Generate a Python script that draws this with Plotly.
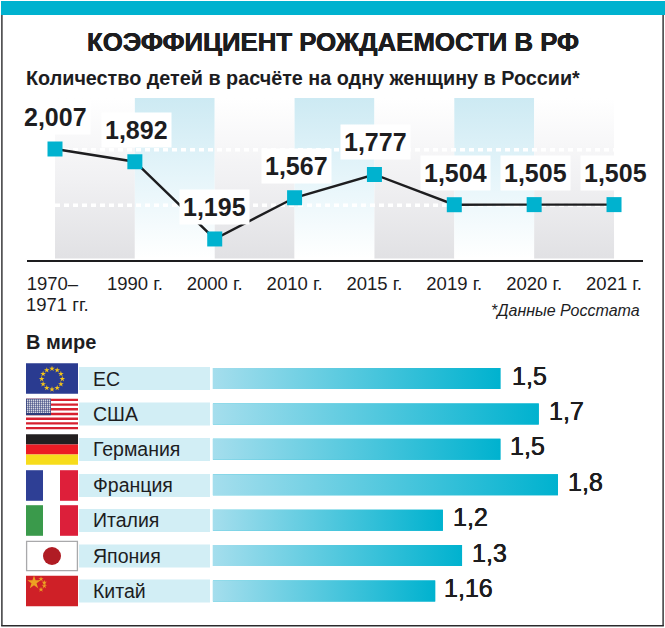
import plotly.graph_objects as go

W, H = 665, 628

# ---- data ----
years = ["1970–&nbsp;", "1990 г.", "2000 г.", "2010 г.", "2015 г.", "2019 г.", "2020 г.", "2021 г."]
first_year_second_line = "1971 гг."
rates = [2.007, 1.892, 1.195, 1.567, 1.777, 1.504, 1.505, 1.505]
grid_levels = [2.0, 1.5]
countries = ["ЕС", "США", "Германия", "Франция", "Италия", "Япония", "Китай"]
world_rates = [1.5, 1.7, 1.5, 1.8, 1.2, 1.3, 1.16]

# ---- style ----
TEAL = "#00b2cf"
INK = "#1d1d1f"
SANS = "Liberation Sans"
THICK = "0.35px 0 0 #1d1d1f, -0.2px 0 0 #1d1d1f"


def X(px):
    return px / W


def Y(py):
    return 1 - py / H


PX_PER_UNIT = 110.8
def val_at(py):
    return 2.007 - (py - 149) / PX_PER_UNIT

y_bottom = val_at(260)
y_top = val_at(98)
band_bottom = val_at(258.5)
band_top = y_top
x_left = (27 - 55) / 79.86
x_right = (643 - 55) / 79.86

fig = go.Figure()

# alternating gradient bands
for i in range(7):
    if i % 2 == 0:
        scale = [[0, "#e1e1e4"], [0.5, "#f1f1f3"], [1, "#ffffff"]]
    else:
        scale = [[0, "#ffffff"], [0.5, "#e6f5fa"], [1, "#cdeaf3"]]
    fig.add_trace(go.Scatter(
        x=[i, i + 1, i + 1, i, i], y=[band_bottom, band_bottom, band_top, band_top, band_bottom],
        mode="lines", line=dict(width=0), fill="toself", hoverinfo="skip", showlegend=False,
        fillgradient=dict(type="vertical", colorscale=scale, start=band_bottom, stop=band_top),
    ))

# dotted white level lines
for lv in grid_levels:
    fig.add_trace(go.Scatter(
        x=[0, 7], y=[lv, lv], mode="lines", hoverinfo="skip", showlegend=False,
        line=dict(color="white", width=3.5, dash="5px,4px"),
    ))

# main line
fig.add_trace(go.Scatter(
    x=list(range(len(rates))), y=rates, mode="lines+markers", showlegend=False,
    line=dict(color=INK, width=2.4),
    marker=dict(symbol="square", size=15, color=TEAL, line=dict(width=0)),
    cliponaxis=False,
))

# horizontal bars (solid base, gradient on top)
BAR_W = 0.593
fig.add_trace(go.Bar(
    x=world_rates, y=list(range(len(world_rates))), orientation="h", width=BAR_W,
    marker=dict(color=TEAL, line=dict(width=0)), xaxis="x2", yaxis="y2", showlegend=False,
))
for i, v in enumerate(world_rates):
    t, b = i - BAR_W / 2, i + BAR_W / 2
    fig.add_trace(go.Scatter(
        x=[0, v, v, 0, 0], y=[t, t, b, b, t], mode="lines", line=dict(width=0),
        fill="toself", hoverinfo="skip", showlegend=False, xaxis="x2", yaxis="y2",
        fillgradient=dict(type="horizontal", colorscale=[[0, "#a5deed"], [1, TEAL]], start=0, stop=v),
    ))

shapes = []


def rect(x0, y0, x1, y1, color, line_color=None, line_w=0):
    shapes.append(dict(type="rect", xref="paper", yref="paper", x0=X(x0), x1=X(x1), y0=Y(y1), y1=Y(y0),
                       fillcolor=color, layer="below",
                       line=dict(width=line_w, color=line_color or color)))


# frame
rect(1, 1, 665, 15, TEAL)
for seg in [(1.2, 15, 2.6, 626), (662.4, 15, 663.8, 626), (1.2, 625, 663.8, 626.4)]:
    rect(*seg, "#2a2a2c")

# pale label cells and flags
row_y = [378.5, 414, 449.5, 485.5, 520.5, 556, 591]
FX0, FX1 = 26, 78
FH = 15.3
for cy in row_y:
    rect(79, cy - 11.5, 210, cy + 11.5, "#d2eef5")

# EU
cy = row_y[0]
rect(FX0, cy - FH, FX1, cy + FH, "#2a3b90")
# USA
cy = row_y[1]
top = cy - FH
rect(FX0, top, FX1, cy + FH, "#ffffff")
sh = 2 * FH / 13
for k in range(0, 13, 2):
    rect(FX0, top + k * sh, FX1, top + (k + 1) * sh, "#d7202f")
rect(FX0, top, 51, top + 7 * sh, "#2d3a78")
# Germany
cy = row_y[2]
rect(FX0, cy - FH, FX1, cy - FH / 3, "#231f20")
rect(FX0, cy - FH / 3, FX1, cy + FH / 3, "#ec1c24")
rect(FX0, cy + FH / 3, FX1, cy + FH, "#f7dc1b")
# France
cy = row_y[3]
rect(FX0, cy - FH, 43, cy + FH, "#2e3f95")
rect(60, cy - FH, FX1, cy + FH, "#de1f3a")
# Italy
cy = row_y[4]
rect(FX0, cy - FH, 43, cy + FH, "#3a9a4b")
rect(60, cy - FH, FX1, cy + FH, "#dc1f3a")
# Japan
cy = row_y[5]
rect(FX0 + 0.6, cy - FH + 0.6, FX1 - 0.6, cy + FH - 0.6, "#ffffff", "#a9a9ab", 1.3)
shapes.append(dict(type="circle", xref="paper", yref="paper", x0=X(43), x1=X(61), y0=Y(cy + 9), y1=Y(cy - 9),
                   fillcolor="#b01c24", line=dict(width=0), layer="below"))
# China
cy = row_y[6]
rect(FX0, cy - FH, FX1, cy + FH, "#cf2027")

# flag details on a helper pixel axis
eu_x = [52.0, 57.2, 60.9, 62.3, 60.9, 57.2, 52.0, 46.8, 43.1, 41.7, 43.1, 46.8]
eu_y = [368.7, 370.1, 373.8, 379.0, 384.2, 387.9, 389.3, 387.9, 384.2, 379.0, 373.8, 370.1]
fig.add_trace(go.Scatter(x=eu_x, y=eu_y, mode="markers", xaxis="x3", yaxis="y3", hoverinfo="skip", showlegend=False,
                         marker=dict(symbol="star", size=4.2, color="#f5c518", line=dict(width=0))))
cn_x = [34.0, 41.0, 44.3, 44.3, 41.0]
cn_y = [582.5, 579.0, 582.7, 586.0, 589.5]
cn_s = [10, 4, 4, 4, 4]
fig.add_trace(go.Scatter(x=cn_x, y=cn_y, mode="markers", xaxis="x3", yaxis="y3", hoverinfo="skip", showlegend=False,
                         marker=dict(symbol="star", size=cn_s, color="#f8d821", line=dict(width=0))))
us_dot_x = [27.6 + 2 * c for c in range(12) for r in range(7)]
us_dot_y = [400.2 + 2 * r for c in range(12) for r in range(7)]
fig.add_trace(go.Scatter(x=us_dot_x, y=us_dot_y, mode="markers", xaxis="x3", yaxis="y3", hoverinfo="skip", showlegend=False,
                         marker=dict(symbol="square", size=1.5, color="#dfe1e6", line=dict(width=0))))

annotations = []


def ptext(txt, px, py, size, anchor="left", family=SANS, color=INK, shadow=None):
    annotations.append(dict(text=txt, xref="paper", yref="paper", x=X(px), y=Y(py), xanchor=anchor, yanchor="middle",
                            showarrow=False, font=dict(family=family, size=size, color=color, shadow=shadow or "none"), borderpad=0))


ptext("<b>КОЭФФИЦИЕНТ РОЖДАЕМОСТИ В РФ</b>", 332.5, 42, 25.8, "center", shadow=THICK)
ptext("<b>Количество детей в расчёте на одну женщину в России*</b>", 25, 78, 19.8)
ptext("<i>*Данные Росстата</i>", 641, 310, 16, "right")
ptext("<b>В мире</b>", 25, 342, 20, "left")
ptext(first_year_second_line, 25, 305, 18.5)

# value labels above the line chart
x_nudge = [0, 2, 0, 2, 1.5, 1, 1, 1]
for i, v in enumerate(rates):
    annotations.append(dict(
        text=f"<b>{v:.3f}</b>".replace(".", ","), x=i, y=v, xref="x", yref="y", yshift=32, xshift=x_nudge[i],
        showarrow=False, bgcolor="white", borderpad=3, xanchor="center", yanchor="middle",
        font=dict(family=SANS, size=25, color=INK),
    ))

# country names and bar values
value_nudge = [10, 8, 7.5, 8, 8.5, 8, 7]
for i, (name, v) in enumerate(zip(countries, world_rates)):
    annotations.append(dict(text=name, x=X(91), xref="paper", y=i, yref="y2", xanchor="left", yanchor="middle",
                            showarrow=False, font=dict(family=SANS, size=19.5, color=INK)))
    annotations.append(dict(text=str(v).replace(".", ","), x=v, xref="x2", y=i, yref="y2", xshift=value_nudge[i], yshift=3,
                            xanchor="left", yanchor="middle", showarrow=False,
                            font=dict(family=SANS, size=25, color=INK, shadow=THICK)))

fig.update_layout(
    template="none",
    width=W, height=H, margin=dict(l=0, r=0, t=0, b=0, pad=0, autoexpand=False),
    paper_bgcolor="white", plot_bgcolor="rgba(0,0,0,0)", showlegend=False,
    shapes=shapes, annotations=annotations,
    xaxis=dict(domain=[X(27), X(643)], range=[x_left, x_right], tickmode="array",
               tickvals=list(range(len(years))), ticktext=years, showgrid=False, zeroline=False,
               showline=True, linecolor=INK, linewidth=2, ticks="", ticklabelstandoff=6, automargin=False,
               tickfont=dict(family=SANS, size=18.5, color=INK), anchor="y"),
    yaxis=dict(domain=[Y(260), Y(98)], range=[y_bottom, y_top], visible=False, anchor="x"),
    xaxis2=dict(domain=[X(212.7), 1], range=[0, (665 - 212.7) / 191.8], visible=False, anchor="y2"),
    yaxis2=dict(domain=[Y(608.7), Y(360.8)], range=[6.5, -0.5], visible=False, anchor="x2"),
    xaxis3=dict(domain=[0, 1], range=[0, W], visible=False, anchor="y3"),
    yaxis3=dict(domain=[0, 1], range=[H, 0], visible=False, anchor="x3"),
)

fig.write_html("out.html", config={"displayModeBar": False},
               post_script="document.body.style.margin='0';document.body.style.overflow='hidden';")
